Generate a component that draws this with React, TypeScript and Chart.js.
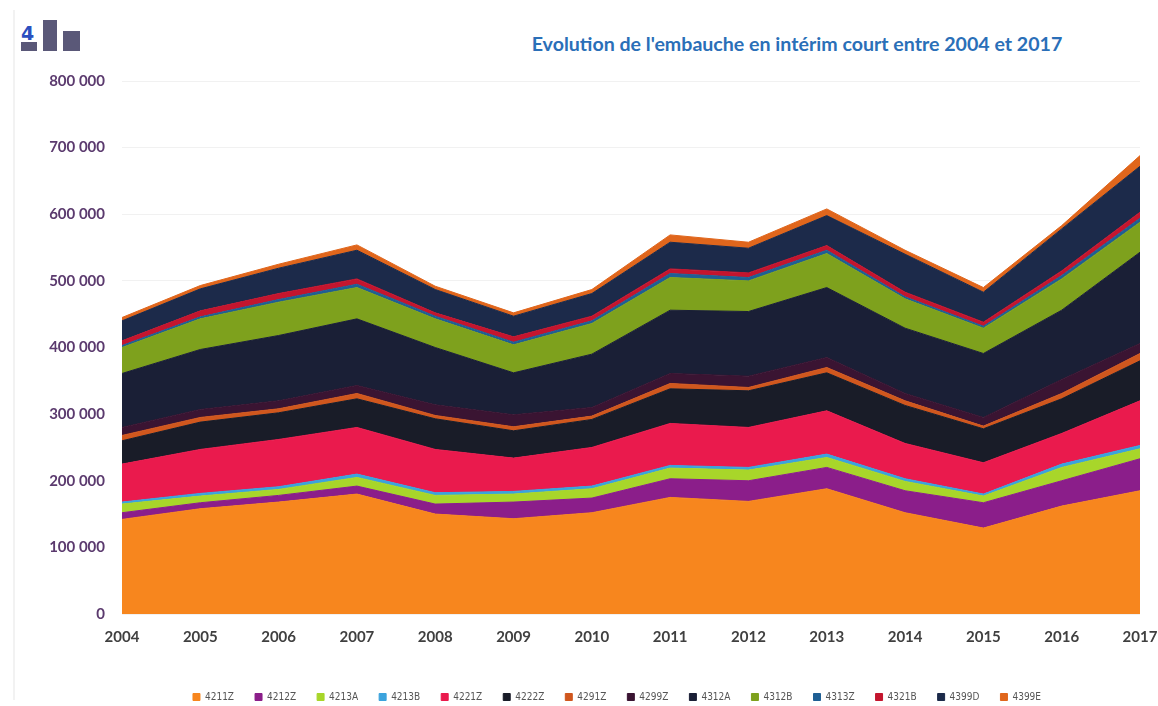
import React, { useEffect, useRef } from "react";
import { Chart, registerables } from "chart.js";

Chart.register(...registerables);

const years = ["2004","2005","2006","2007","2008","2009","2010","2011","2012","2013","2014","2015","2016","2017"];
const yTicks = [0, 100000, 200000, 300000, 400000, 500000, 600000, 700000, 800000];

// values in thousands
const s4211Z = [142, 158, 168, 180, 150, 143, 152, 175, 169, 188, 152, 129, 162, 185];
const s4212Z = [10, 9, 10, 12, 15, 25, 22, 28, 31, 32, 33, 38, 38, 48];
const s4213A = [13, 10, 9, 13, 13, 12, 14, 16, 16, 15, 14, 10, 20, 15];
const s4213B = [3, 4, 4, 5, 4, 4, 4, 4, 4, 5, 4, 3, 5, 5];
const s4221Z = [57, 66, 71, 70, 65, 50, 58, 63, 60, 65, 53, 47, 46, 67];
const s4222Z = [35, 41, 40, 43, 46, 41, 42, 52, 55, 57, 57, 51, 52, 60];
const s4291Z = [8, 7, 6, 8, 5, 6, 5, 8, 5, 8, 7, 4, 8, 11];
const s4299Z = [12, 12, 12, 12, 16, 18, 13, 15, 17, 15, 11, 13, 21, 15];
const s4312A = [81, 90, 98, 100, 86, 63, 80, 95, 97, 105, 98, 96, 104, 137];
const s4312B = [39, 46, 50, 47, 43, 42, 46, 49, 46, 51, 44, 38, 47, 45];
const s4313Z = [3, 3, 4, 5, 4, 4, 4, 6, 5, 5, 3, 3, 5, 6];
const s4321B = [7, 9, 9, 8, 5, 8, 7, 7, 7, 7, 7, 6, 7, 9];
const s4399D = [30, 33, 38, 43, 35, 31, 34, 40, 37, 45, 57, 45, 63, 69];
const s4399E = [5, 5, 6, 8, 5, 5, 6, 11, 9, 10, 6, 7, 5, 16];

const seriesNames = ["4211Z","4212Z","4213A","4213B","4221Z","4222Z","4291Z","4299Z","4312A","4312B","4313Z","4321B","4399D","4399E"];
const seriesValues = [s4211Z, s4212Z, s4213A, s4213B, s4221Z, s4222Z, s4291Z, s4299Z, s4312A, s4312B, s4313Z, s4321B, s4399D, s4399E];
const seriesColors = ["#f7861e","#8b1e8a","#a8d62a","#3ba3dd","#ea1a4d","#191c28","#d0571e","#3a1432","#1a1f36","#7ea11d","#1f5f94","#c4152e","#1c2a4a","#e0661c"];

const fmt = (v: number) => String(v).replace(/\B(?=(\d{3})+(?!\d))/g, " ");

const legendShift = {
  id: "legendShift",
  beforeDraw(chart: any) {
    const lg = chart.legend;
    if (lg) {
      lg.left += 38;
      lg.right += 38;
      lg.top += 6;
      lg.bottom += 6;
    }
  },
};

export default function App() {
  const ref = useRef<HTMLCanvasElement | null>(null);
  useEffect(() => {
    if (!ref.current) return;
    const chart = new Chart(ref.current, {
      type: "line",
      data: {
        labels: years,
        datasets: seriesNames.map((name, i) => ({
          label: name,
          data: seriesValues[i].map((v) => v * 1000),
          backgroundColor: seriesColors[i],
          borderColor: seriesColors[i],
          borderWidth: 1,
          pointRadius: 0,
          tension: 0,
          fill: i === 0 ? "origin" : "-1",
        })),
      },
      plugins: [legendShift],
      options: {
        animation: false,
        responsive: true,
        maintainAspectRatio: false,
        layout: { padding: { top: 81, right: 0, left: 0, bottom: 0 } },
        plugins: {
          title: { display: false },
          tooltip: { enabled: false },
          legend: {
            position: "bottom",
            labels: {
              boxWidth: 7,
              boxHeight: 7,
              padding: 21,
              color: "#555",
              font: { family: "'Liberation Sans Narrow', 'DejaVu Sans Condensed', sans-serif", size: 10 },
            },
          },
        },
        scales: {
          x: {
            offset: false,
            grid: { display: false },
            border: { display: false },
            ticks: {
              color: "#404040",
              padding: 6,
              maxRotation: 0,
              autoSkip: false,
              font: { family: "Lato, 'Open Sans', sans-serif", weight: "bold", size: 15 },
            },
            afterFit: (s: any) => { s.height = 51; s.paddingRight = 18; s.paddingLeft = 0; },
          },
          y: {
            stacked: true,
            min: 0,
            max: 800000,
            afterBuildTicks: (s: any) => { s.ticks = yTicks.map((v) => ({ value: v })); },
            ticks: {
              color: "#5b3a6e",
              padding: 17,
              callback: (v: any) => fmt(Number(v)),
              font: { family: "Lato, 'Open Sans', sans-serif", weight: "bold", size: 15 },
            },
            grid: { color: "#f1f1f1", drawTicks: false },
            border: { display: false },
            afterFit: (s: any) => { s.width = 122; },
          },
        },
      },
    });
    return () => chart.destroy();
  }, []);

  return (
    <div style={{ position: "absolute", left: 0, top: 0, width: 1158, height: 706, background: "#fff", overflow: "hidden" }}>
      <div style={{ position: "absolute", left: 13, top: 10, width: 2, height: 690, background: "#f2f2f2" }} />
      <div style={{ position: "absolute", left: 21, top: 22, fontFamily: "'DejaVu Sans', sans-serif", fontWeight: "bold", fontSize: 19, color: "#2b4fc0", lineHeight: "22px" }}>4</div>
      <div style={{ position: "absolute", left: 21, top: 42, width: 16, height: 9, background: "#5a5878" }} />
      <div style={{ position: "absolute", left: 43, top: 20, width: 14, height: 31, background: "#5a5878" }} />
      <div style={{ position: "absolute", left: 63, top: 31, width: 17, height: 20, background: "#5a5878" }} />
      <div style={{ position: "absolute", left: 522, top: 32, width: 550, textAlign: "center", fontFamily: "Lato, 'Open Sans', sans-serif", fontWeight: "bold", fontSize: 19.6, color: "#2a6fb8", whiteSpace: "nowrap" }}>
        Evolution de l'embauche en intérim court entre 2004 et 2017
      </div>
      <canvas ref={ref} style={{ position: "absolute", left: 0, top: 0, width: 1158, height: 706 }} />
    </div>
  );
}
